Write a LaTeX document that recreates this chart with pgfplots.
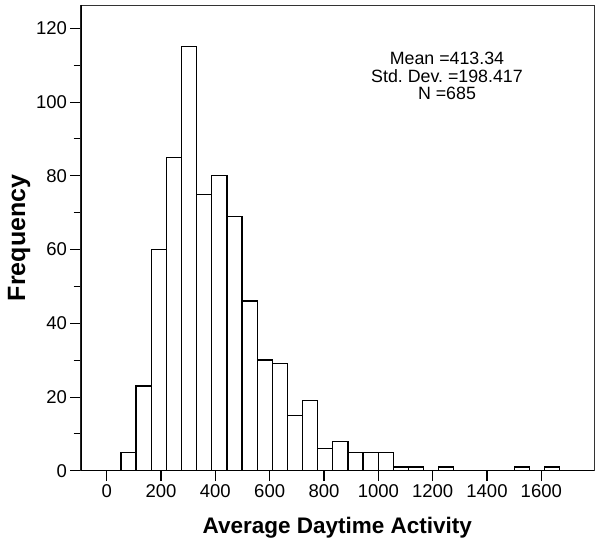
\documentclass[border=0pt]{standalone}
\usepackage{pgfplots}
\pgfplotsset{compat=1.18}
\usepackage{fontspec}
\setmainfont{Liberation Sans}
\begin{document}
\begin{tikzpicture}
\begin{axis}[
  scale only axis,
  width=513.3pt, height=465.7pt,
  xmin=-95.7, xmax=1794,
  ymin=0, ymax=126.3,
  xtick={0,200,...,1600},
  ytick={0,20,...,120},
  minor ytick={10,30,...,110},
  xtick pos=left, ytick pos=left,
  tick align=outside,
  major tick length=10.5pt,
  minor tick length=7pt,
  xtick style={line width=1.5pt, black},
  ytick style={line width=0.9pt, black},
  minor tick style={line width=0.9pt, black},
  axis line style={line width=0.9pt, black!80},
  /pgf/number format/assume math mode=true,
  /pgf/number format/1000 sep={},
  tick label style={font=\fontsize{18.5}{22}\selectfont},
  yticklabel style={inner xsep=3pt},
  xlabel={Average Daytime Activity},
  ylabel={Frequency},
  xlabel style={font=\fontsize{22.5}{26}\selectfont\bfseries, at={(axis description cs:0.5,-0.1344)}, anchor=base},
  ylabel style={font=\fontsize{25}{28}\selectfont\bfseries, at={(axis description cs:-0.1085,0.5)}, anchor=base},
]
\addplot[ybar interval, fill=white, draw=black, line width=1.3pt] coordinates {
(52.6,5) (108.3,23) (164.0,60) (219.7,85) (275.4,115) (331.1,75) (386.8,80)
(442.5,69) (498.2,46) (553.9,30) (609.6,29) (665.3,15) (721.0,19) (776.7,6)
(832.4,8) (888.1,5) (943.8,5) (999.5,5) (1055.2,1) (1110.9,1) (1166.6,0)
(1222.3,1) (1278.0,0) (1333.7,0) (1389.4,0) (1445.1,0) (1500.8,1) (1556.5,0)
(1612.2,1) (1667.9,0)
};
\draw[line width=1.8pt, black] (rel axis cs:0,1) -- (rel axis cs:0,0) -- (rel axis cs:1,0);
\node[anchor=base, font=\fontsize{17.8}{20}\selectfont] at (rel axis cs:0.7136,0.8712) {Mean =413.34};
\node[anchor=base, font=\fontsize{17.8}{20}\selectfont] at (rel axis cs:0.7136,0.8332) {\frenchspacing Std. Dev. =198.417};
\node[anchor=base, font=\fontsize{17.8}{20}\selectfont] at (rel axis cs:0.7136,0.7960) {N =685};
\end{axis}
\pgfresetboundingbox
\path ([shift={(-80.7pt,-73.3pt)}]current axis.south west) rectangle ([shift={(8pt,5pt)}]current axis.north east);
\end{tikzpicture}
\end{document}
